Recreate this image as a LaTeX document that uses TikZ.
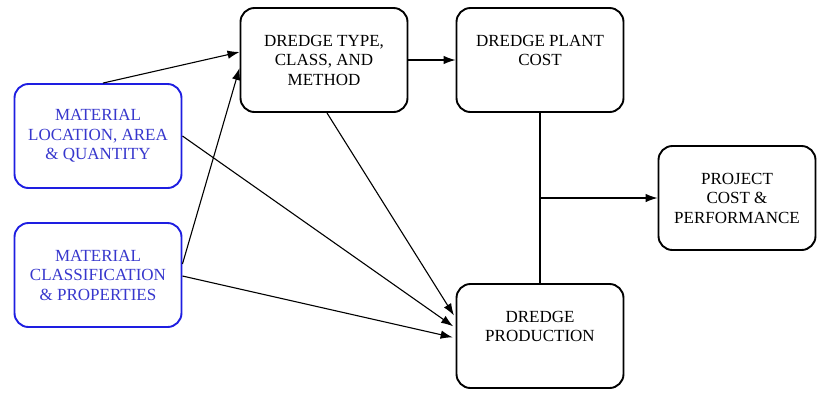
\documentclass[tikz,border=0pt]{standalone}
\usepackage{fontspec}
\setmainfont{Liberation Serif}
\usetikzlibrary{arrows.meta, positioning}

\definecolor{matblue}{RGB}{30,30,225}
\definecolor{mattext}{RGB}{55,55,205}

\begin{document}
\begin{tikzpicture}[x=1pt, y=-1pt, ->, >={Latex[length=12pt,width=8.5pt]}, line width=1.1pt, node distance=216pt]
        \tikzstyle{block}=[draw=black, line width=1.9pt, fill=white, text=black, rounded corners=14pt,
                minimum width=167pt, minimum height=104pt, align=center, inner sep=0pt,
                font=\fontsize{17}{19.5}\selectfont]
        \tikzstyle{input}=[block, draw=matblue, text=mattext]

        \useasboundingbox (0,0) rectangle (817,392);

        \node[input]    (ML) at (98,136)        {MATERIAL\\LOCATION, AREA\\\& QUANTITY};
        \node[input]    (MC) [below of=ML, node distance=139pt] {MATERIAL\\CLASSIFICATION\\\& PROPERTIES};
        \node[block]    (DT) at (324,60)        {DREDGE TYPE,\\CLASS, AND\\METHOD};
        \node[block]    (PC) [right of=DT] {DREDGE PLANT\\COST\\\mbox{}};
        \node[block]    (PR) [below of=PC, node distance=276pt] {DREDGE\\PRODUCTION\\\mbox{}};
        \node[block, minimum width=157pt] (PJ) at (737,198) {PROJECT\\COST \&\\PERFORMANCE};

        % inputs into the dredge selection
        \draw ([xshift=5pt]ML.north) -- ([yshift=8pt]DT.west);
        \draw ([yshift=11pt]MC.east) -- ([yshift=-8pt]DT.west);
        \draw (DT) -- (PC);

        % everything feeding production
        \draw[shorten >=3pt] ([xshift=3pt]DT.south) -- ([yshift=18pt]PR.west);
        \draw[shorten >=3pt] (ML.east) -- ([yshift=8pt]PR.west);
        \draw[shorten >=3pt] ([yshift=-1pt]MC.east) -- ([yshift=-2pt]PR.west);

        % plant cost and production combine into the project
        \draw[-] (PC) -- (PR) coordinate[pos=0.5] (J);
        \draw (J) -- (PJ);
\end{tikzpicture}
\end{document}
